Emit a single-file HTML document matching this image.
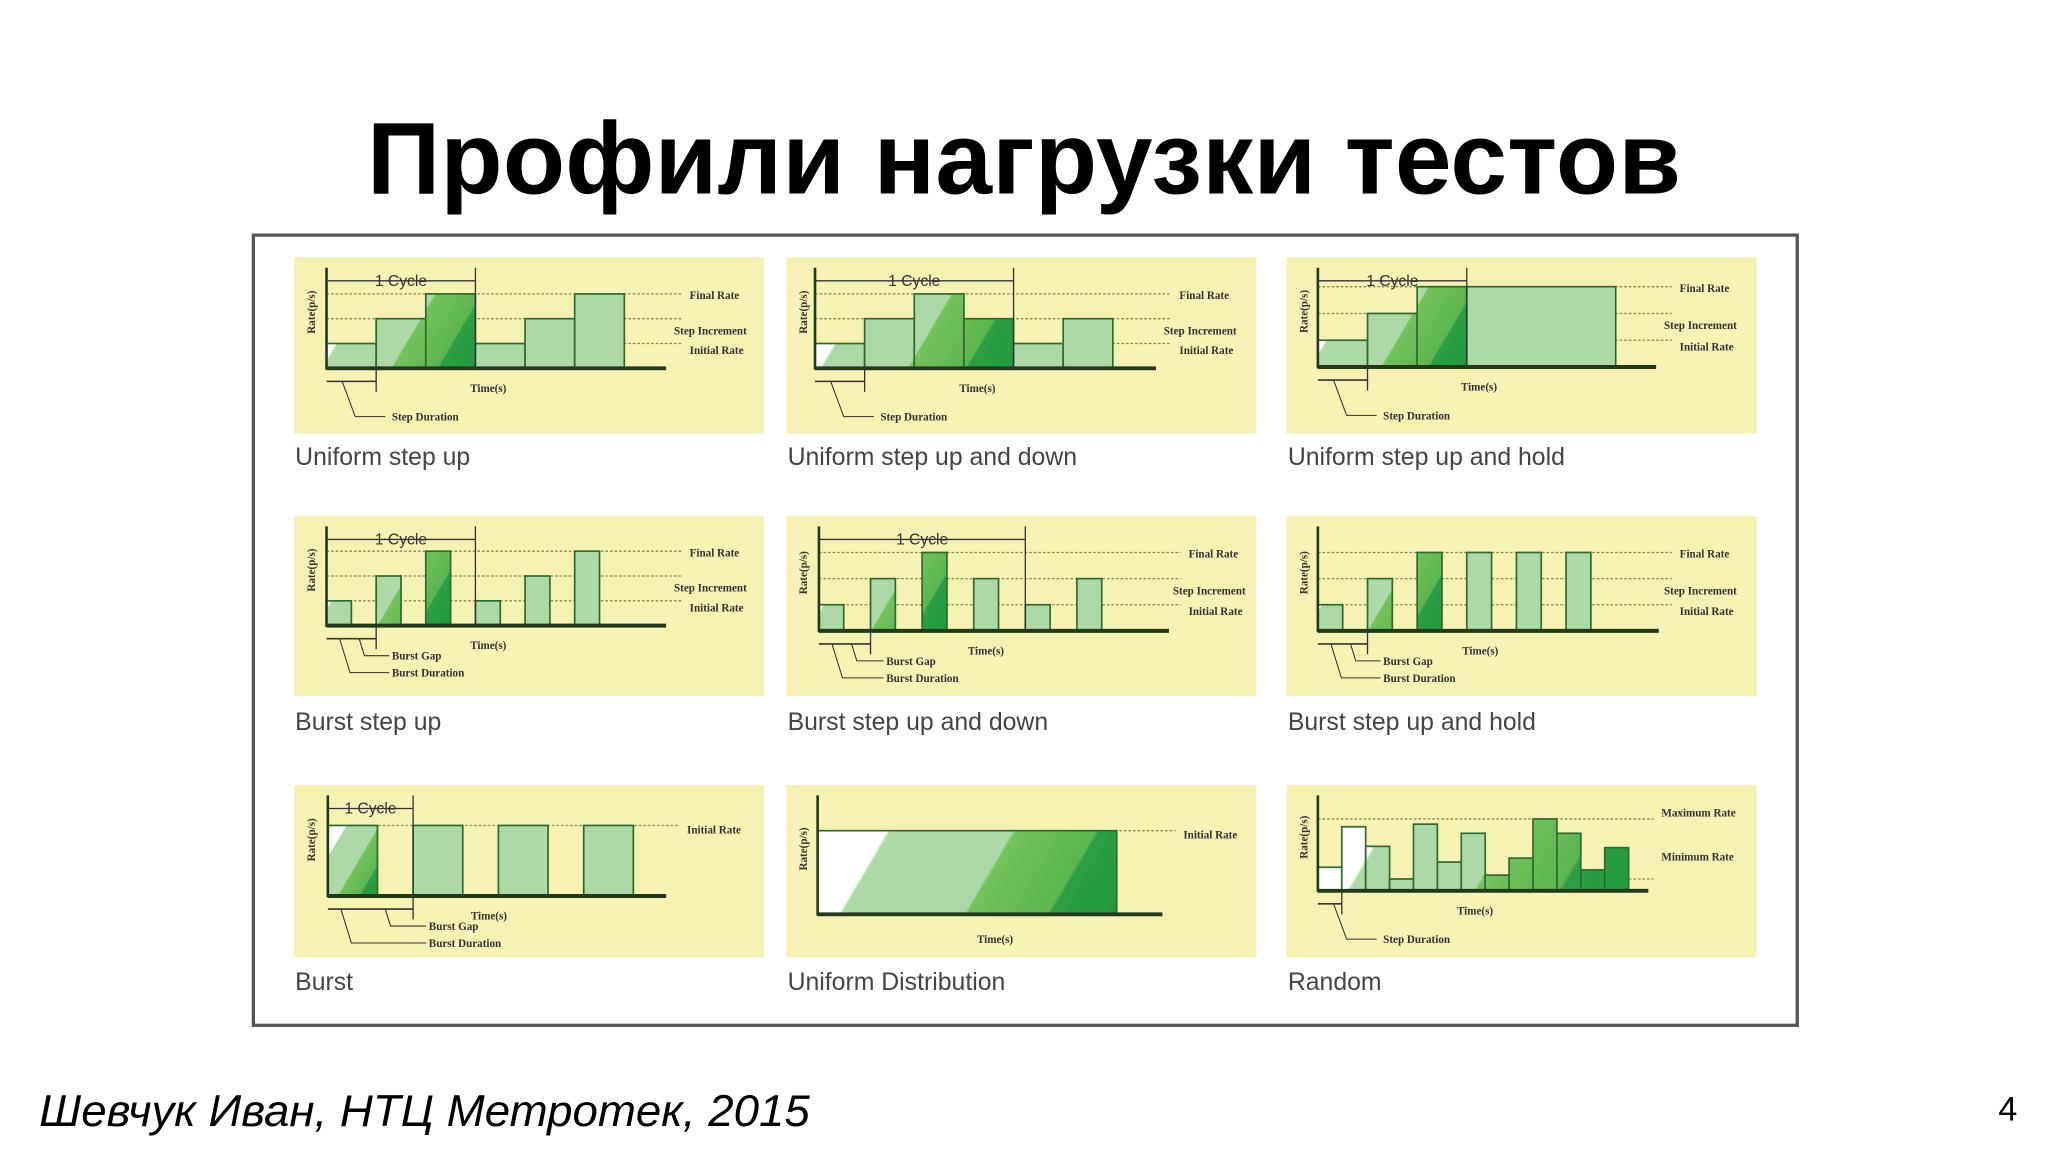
<!DOCTYPE html>
<html><head><meta charset="utf-8">
<style>
html,body{margin:0;padding:0;background:#fff;}
svg{display:block;}
text{font-family:"Liberation Sans","DejaVu Sans",sans-serif;}
.sm{font-family:"Liberation Serif",serif;font-size:8.5px;font-weight:bold;fill:#333;}
</style></head>
<body>
<svg id="s" width="2048" height="1152" viewBox="0 0 1568 882" preserveAspectRatio="none" xmlns="http://www.w3.org/2000/svg">
<defs id="defs"></defs>
<text x="784" y="148" text-anchor="middle" font-size="78" font-weight="bold" fill="#000" textLength="1006">Профили нагрузки тестов</text>
<rect x="194" y="180" width="1182" height="605" fill="#fff" stroke="#555" stroke-width="2.5"/>
<g id="panels"></g>
<text x="30" y="862" font-size="34" font-style="italic" fill="#000" textLength="590" lengthAdjust="spacingAndGlyphs">Шевчук Иван, НТЦ Метротек, 2015</text>
<text x="1530" y="858" font-size="26" fill="#000">4</text>
</svg>
<script>
// chart data (rate levels per bar)
const uniformStepUpValues = [1,2,3,1,2,3];
const uniformUpDownValues = [1,2,3,2,1,2];
const uniformUpHoldValues = [1,2,3,3,3,3];
const burstStepUpValues = [1,2,3,1,2,3];
const burstUpDownValues = [1,2,3,2,1,2];
const burstUpHoldValues = [1,2,3,3,3,3];
const burstValues = [1,1,1,1];
const uniformDistValues = [1];
const randomValues = [18,49,34,9,51,22,44,12,25,55,44,16,33];
const captions = ["Uniform step up","Uniform step up and down","Uniform step up and hold","Burst step up","Burst step up and down","Burst step up and hold","Burst","Uniform Distribution","Random"];

const NS="http://www.w3.org/2000/svg";
const root=document.getElementById('panels');
const defs=document.getElementById('defs');
function mk(tag,attrs,parent){const e=document.createElementNS(NS,tag);for(const k in attrs)e.setAttribute(k,attrs[k]);(parent||root).appendChild(e);return e;}

const layouts=[
 {px:225,py:197,x0:250,base:282,end:510,unit:19,bw:38,per:38,vals:uniformStepUpValues,grad:3,labels:['Final Rate','Step Increment','Initial Rate'],dur:'step',cycle:3,lx:528},
 {px:602,py:197,x0:624,base:282,end:885,unit:19,bw:38,per:38,vals:uniformUpDownValues,grad:4,labels:['Final Rate','Step Increment','Initial Rate'],dur:'step',cycle:4,lx:903},
 {px:985,py:197,x0:1009,base:281,end:1268,unit:20.5,bw:38,per:38,vals:uniformUpHoldValues,grad:3,labels:['Final Rate','Step Increment','Initial Rate'],dur:'step',cycle:3,lx:1286,hold:true},
 {px:225,py:395,x0:250,base:479,end:510,unit:19,bw:19,per:38,vals:burstStepUpValues,grad:3,labels:['Final Rate','Step Increment','Initial Rate'],dur:'burst',cycle:3,lx:528},
 {px:602,py:395,x0:627,base:483,end:895,unit:20,bw:19,per:39.5,vals:burstUpDownValues,grad:3,labels:['Final Rate','Step Increment','Initial Rate'],dur:'burst',cycle:4,lx:910},
 {px:985,py:395,x0:1009,base:483,end:1270,unit:20,bw:19,per:38,vals:burstUpHoldValues,grad:3,labels:['Final Rate','Step Increment','Initial Rate'],dur:'burst',cycle:0,lx:1286},
 {px:225,py:601,x0:251,base:686,end:510,unit:54,bw:38,per:65.3,vals:burstValues,grad:1,labels:['Initial Rate'],dur:'burst1',cycle:1,lx:526},
 {px:602,py:601,x0:626,base:700,end:890,unit:64,bw:229,per:229,vals:uniformDistValues,grad:1,labels:['Initial Rate'],dur:'none',cycle:0,lx:906},
 {px:985,py:601,x0:1009,base:682,end:1262,unit:1,bw:18.3,per:18.3,vals:randomValues,grad:13,labels:['Maximum Rate','Minimum Rate'],dur:'step1',cycle:0,lx:1272,random:true}
];

layouts.forEach((L,pi)=>{
 const g=mk('g',{});
 
 
 const bg=mk('rect',{x:L.px,y:L.py,width:360,height:pi>=6?132:(pi>=3?138:135),fill:'#f6f2b4'},g);
 
 
 const X=i=>L.x0+i*L.per;
 const Y=v=>L.base-v*L.unit;
 const top=L.random?Y(55):Y(L.vals[0]===1&&L.vals.length<5?1:3);
 const gw=L.random?(L.end-L.x0-15):(L.grad*L.per - (L.per-L.bw));
 const H=L.base-top;
 const P=1.7*gw+H;
 const k=P/3.89;
 const gid='gr'+pi;
 const lg=mk('linearGradient',{id:gid,gradientUnits:'userSpaceOnUse',x1:L.x0,y1:top,x2:L.x0+1.7*k,y2:top+k},defs);
 [[0,'#ffffff'],[0.2,'#ffffff'],[0.21,'#acd9a6'],[0.56,'#acd9a6'],[0.57,'#74c25c'],[0.8,'#5cb550'],[0.81,'#2e9e44'],[1,'#1f9a3e']].forEach(s=>mk('stop',{offset:s[0],'stop-color':s[1]},lg));
 let lv=L.random?[55,9]:(L.labels.length===3?[3,2,1]:[1]);
 lv.forEach((v,k2)=>{
   const ln=mk('line',{x1:L.x0,x2:L.lx-6,y1:Y(v),y2:Y(v),stroke:'#8a8a50','stroke-width':1,'stroke-dasharray':'2 1.5'},g);
   
   
 });
 L.labels.forEach((t,k2)=>{
   let y;
   if(L.labels.length===3) y=[Y(3)+4,Y(2)+12,Y(1)+8][k2];
   else if(L.random) y=[Y(55)-2,Y(9)-14][k2];
   else y=Y(1)+6;
   const tx=mk('text',{x:L.lx+(k2==1&&L.labels.length===3?-12:0),y:y,class:'sm'},g);
   tx.textContent=t;
   
   
 });
 L.vals.forEach((v,i)=>{
   let x=X(i),w=L.bw;
   if(L.hold && i>=3){ if(i>3) return; w=L.per*3; }
   const r=mk('rect',{x:x,y:Y(v),width:w,height:v*L.unit,fill:i<L.grad?'url(#'+gid+')':'#acd9a6',stroke:'#2f6a2f','stroke-width':1.3},g);
   
   
 });
 const ya=mk('line',{x1:L.x0,x2:L.x0,y1:L.py+8,y2:L.base+1,stroke:'#223a1a','stroke-width':2},g);
 
 
 const xa=mk('line',{x1:L.x0,x2:L.end,y1:L.base,y2:L.base,stroke:'#223a1a','stroke-width':3},g);
 
 
 const yt=mk('text',{x:0,y:0,class:'sm',transform:'translate('+(L.px+16)+','+((L.py+L.base)/2+16)+') rotate(-90)'},g);
 yt.textContent='Rate(p/s)';
 
 
 const xt=mk('text',{x:(L.x0+L.end)/2-20+(pi==7?10:0),y:L.base+(pi==7?22:18),class:'sm','font-size':10},g);
 xt.textContent='Time(s)';
 
 
 if(L.cycle){
   const cx2=X(L.cycle);
   const cy=L.py+18;
   mk('line',{x1:L.x0,x2:cx2,y1:cy,y2:cy,stroke:'#333','stroke-width':1},g);
   mk('line',{x1:cx2,x2:cx2,y1:L.py+8,y2:L.base,stroke:'#333','stroke-width':1},g);
   const ct=mk('text',{x:(L.x0+cx2)/2,y:cy+4,'text-anchor':'middle','font-family':'Liberation Serif, serif','font-size':12,fill:'#333'},g);
   ct.textContent='1 Cycle';
   
   
 }
 const dy=L.base+10;
 if(L.dur==='step'||L.dur==='step1'){
   const x2=L.x0+(L.dur==='step'?L.per:L.bw);
   mk('line',{x1:L.x0,x2:x2,y1:dy,y2:dy,stroke:'#333','stroke-width':1.2},g);
   mk('line',{x1:x2,x2:x2,y1:L.base,y2:dy+8,stroke:'#333','stroke-width':1},g);
   mk('polyline',{points:(L.x0+12)+','+dy+' '+(L.x0+22)+','+(dy+27)+' '+(L.x0+45)+','+(dy+27),fill:'none',stroke:'#333','stroke-width':0.8},g);
   const t=mk('text',{x:L.x0+50,y:dy+30,class:'sm'},g);
   t.textContent='Step Duration';
   
   
 } else if(L.dur==='burst'||L.dur==='burst1'){
   const x1=L.x0+L.bw, x2=L.x0+L.per;
   mk('line',{x1:L.x0,x2:x2,y1:dy,y2:dy,stroke:'#333','stroke-width':1.2},g);
   mk('line',{x1:x2,x2:x2,y1:L.base,y2:dy+8,stroke:'#333','stroke-width':1},g);
   mk('polyline',{points:(x1+6)+','+dy+' '+(x1+10)+','+(dy+13)+' '+(x2+10)+','+(dy+13),fill:'none',stroke:'#333','stroke-width':0.8},g);
   mk('polyline',{points:(L.x0+10)+','+dy+' '+(L.x0+18)+','+(dy+26)+' '+(x2+10)+','+(dy+26),fill:'none',stroke:'#333','stroke-width':0.8},g);
   const t1=mk('text',{x:x2+12,y:dy+16,class:'sm'},g);
   t1.textContent='Burst Gap';
   
   
   const t2=mk('text',{x:x2+12,y:dy+29,class:'sm'},g);
   t2.textContent='Burst Duration';
   
   
 }
 const capY=[350,350,350,553,553,553,752,752,752][pi];
 const cap=mk('text',{x:L.px+1,y:capY+6,'font-size':19,fill:'#444'},g);
 cap.textContent=captions[pi];
 
 
});
</script>
</body></html>
